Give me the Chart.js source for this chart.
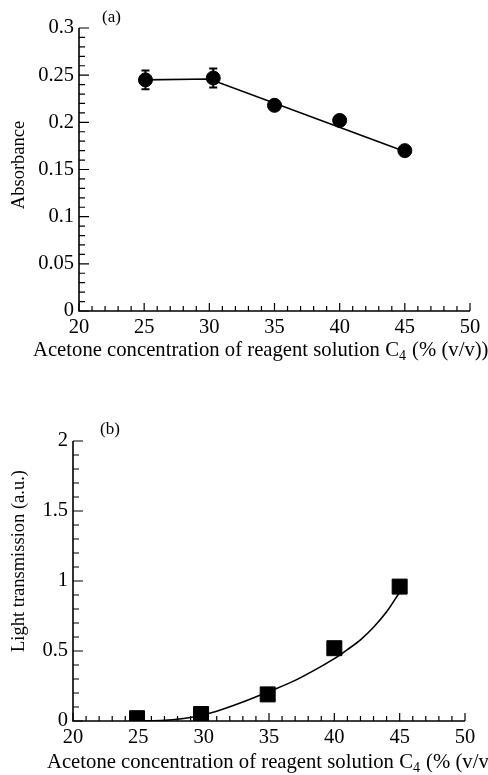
<!DOCTYPE html>
<html>
<head>
<meta charset="utf-8">
<script src="https://cdn.jsdelivr.net/npm/chart.js@4.4.1/dist/chart.umd.min.js"></script>
<style>
  body { margin: 0; background: #fff; }
  #wrap { position: relative; width: 488px; height: 775px; }
  canvas { position: absolute; left: 0; }
</style>
</head>
<body>
<div id="wrap">
  <canvas id="chartA" width="488" height="380" style="top:0"></canvas>
  <canvas id="chartB" width="488" height="395" style="top:380px"></canvas>
</div>
<script>
// (a) absorbance vs acetone concentration
const xA = [25.1, 30.3, 35, 40, 45];
const absorbance = [0.245, 0.247, 0.218, 0.202, 0.170];
const absErr = [0.01, 0.01, 0, 0, 0];
const fitAx = [25, 30, 45];
const fitAy = [0.245, 0.246, 0.169];

// (b) light transmission vs acetone concentration
const xB = [24.9, 29.8, 34.9, 40, 45];
const transmission = [0.02, 0.05, 0.19, 0.52, 0.96];
const fitBx = [25, 27, 29, 31, 33, 35, 37, 39, 40, 41, 42, 43, 44, 45];
const fitBy = [0, 0.005, 0.025, 0.07, 0.135, 0.21, 0.29, 0.39, 0.445, 0.51, 0.58, 0.67, 0.78, 0.92];

const serif = '"Liberation Serif", "Times New Roman", serif';
const pts = (xs, ys) => xs.map((x, i) => ({ x: x, y: ys[i] }));
const plain = v => String(Number(v.toFixed(3)));

// axis lines + major/minor tick marks pointing inward
const axesTicks = {
  id: 'axesTicks',
  afterDraw(chart, args, o) {
    const { ctx, chartArea: a } = chart;
    const sx = chart.scales.x, sy = chart.scales.y;
    ctx.save();
    ctx.strokeStyle = '#000';
    ctx.lineWidth = 1.2;
    ctx.beginPath();
    const nx = Math.round((sx.max - sx.min) / o.xMinor);
    for (let i = 0; i <= nx; i++) {
      const px = sx.getPixelForValue(sx.min + i * o.xMinor);
      const len = i % o.xEvery === 0 ? 8 : 5;
      ctx.moveTo(px, a.bottom);
      ctx.lineTo(px, a.bottom - len);
    }
    const ny = Math.round((sy.max - sy.min) / o.yMinor);
    for (let i = 0; i <= ny; i++) {
      const py = sy.getPixelForValue(sy.min + i * o.yMinor);
      const len = i % o.yEvery === 0 ? 10 : 6;
      ctx.moveTo(a.left, py);
      ctx.lineTo(a.left + len, py);
    }
    ctx.stroke();
    ctx.lineWidth = 1.6;
    ctx.beginPath();
    ctx.moveTo(a.left, a.top);
    ctx.lineTo(a.left, a.bottom);
    ctx.lineTo(a.right, a.bottom);
    ctx.stroke();
    ctx.restore();
  }
};

// vertical error bars for the marker dataset
const errorBars = {
  id: 'errorBars',
  afterDatasetsDraw(chart, args, o) {
    if (!o.err) return;
    const { ctx } = chart;
    const sy = chart.scales.y;
    const meta = chart.getDatasetMeta(1);
    const vals = chart.data.datasets[1].data;
    ctx.save();
    ctx.strokeStyle = '#000';
    ctx.lineWidth = 2;
    meta.data.forEach((p, i) => {
      const e = o.err[i];
      if (!e) return;
      const y1 = sy.getPixelForValue(vals[i].y + e);
      const y2 = sy.getPixelForValue(vals[i].y - e);
      ctx.beginPath();
      ctx.moveTo(p.x, y1); ctx.lineTo(p.x, y2);
      ctx.moveTo(p.x - 4, y1); ctx.lineTo(p.x + 4, y1);
      ctx.moveTo(p.x - 4, y2); ctx.lineTo(p.x + 4, y2);
      ctx.stroke();
    });
    ctx.restore();
  }
};

// axis titles and panel letter
const labels = {
  id: 'labels',
  afterDraw(chart, args, o) {
    const { ctx } = chart;
    ctx.save();
    ctx.fillStyle = '#000';
    ctx.textBaseline = 'alphabetic';
    ctx.textAlign = 'left';
    // x title with subscript
    let x = o.xTitle[0];
    const yb = o.xTitle[1];
    ctx.font = '20.7px ' + serif;
    const p1 = 'Acetone concentration of reagent solution C';
    ctx.fillText(p1, x, yb);
    x += ctx.measureText(p1).width;
    ctx.font = '14px ' + serif;
    ctx.fillText('4', x, yb + 4);
    x += ctx.measureText('4').width + 1;
    ctx.font = '20.7px ' + serif;
    ctx.fillText(' (% (v/v))', x, yb);
    // panel letter
    ctx.font = '17px ' + serif;
    ctx.fillText(o.panel[0], o.panel[1], o.panel[2]);
    // y title
    ctx.translate(o.yTitle[1], o.yTitle[2]);
    ctx.rotate(-Math.PI / 2);
    ctx.textAlign = 'center';
    ctx.font = '18.5px ' + serif;
    ctx.fillText(o.yTitle[0], 0, 0);
    ctx.restore();
  }
};

function makeChart(id, markers, fit, style, radius, yMax, yStep, yMinor, yEvery, padTop, padRight, xH, yW, pluginOpts) {
  return new Chart(document.getElementById(id), {
    type: 'scatter',
    data: {
      datasets: [
        {
          type: 'line',
          data: fit,
          borderColor: '#000',
          borderWidth: 1.6,
          pointRadius: 0,
          fill: false,
          tension: style === 'rect' ? 0.4 : 0,
          cubicInterpolationMode: style === 'rect' ? 'monotone' : 'default'
        },
        {
          data: markers,
          pointStyle: style,
          pointRadius: radius,
          backgroundColor: '#000',
          borderColor: '#000',
          borderWidth: 1
        }
      ]
    },
    options: {
      responsive: false,
      animation: false,
      events: [],
      layout: { padding: { top: padTop, right: padRight, left: 0, bottom: 0 } },
      plugins: {
        legend: { display: false },
        tooltip: { enabled: false },
        axesTicks: { xMinor: 1, xEvery: 5, yMinor: yMinor, yEvery: yEvery },
        errorBars: { err: pluginOpts.err },
        labels: pluginOpts
      },
      scales: {
        x: {
          type: 'linear', min: 20, max: 50,
          grid: { display: false, drawTicks: false },
          border: { display: false },
          ticks: { stepSize: 5, color: '#000', padding: 4, font: { family: serif, size: 20.5 }, callback: plain },
          afterFit: s => { s.height = xH; }
        },
        y: {
          type: 'linear', min: 0, max: yMax,
          grid: { display: false, drawTicks: false },
          border: { display: false },
          ticks: { stepSize: yStep, color: '#000', padding: 5, font: { family: serif, size: 20.5 }, callback: plain },
          afterFit: s => { s.width = yW; }
        }
      }
    },
    plugins: [axesTicks, errorBars, labels]
  });
}

makeChart('chartA', pts(xA, absorbance), pts(fitAx, fitAy), 'circle', 7,
  0.3, 0.05, 0.01, 5, 28, 18, 69, 79,
  { err: absErr, xTitle: [33, 356], panel: ['(a)', 102, 22], yTitle: ['Absorbance', 24, 165] });

makeChart('chartB', pts(xB, transmission), pts(fitBx, fitBy), 'rect', 10.6,
  2, 0.5, 0.1, 5, 61, 23, 54, 73,
  { err: null, xTitle: [47, 388], panel: ['(b)', 100, 54], yTitle: ['Light transmission (a.u.)', 24, 181] });
</script>
</body>
</html>
